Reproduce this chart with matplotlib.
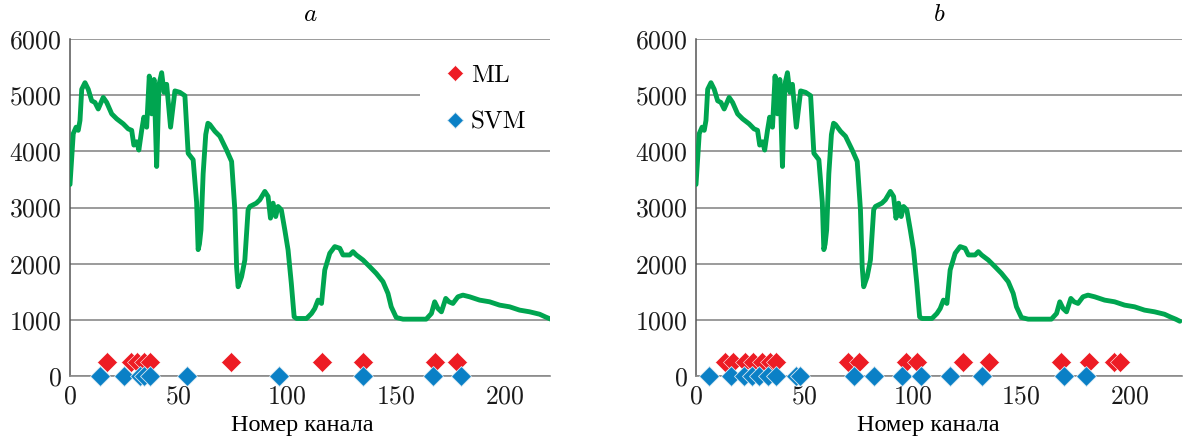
import matplotlib
matplotlib.use("Agg")
import matplotlib.pyplot as plt
from matplotlib.patches import Rectangle

plt.rcParams['font.family'] = ['cmr10', 'Liberation Serif', 'DejaVu Serif']
plt.rcParams['mathtext.fontset'] = 'cm'
plt.rcParams['axes.formatter.use_mathtext'] = True

# ---- data ----
channels = [0, 1.5, 2.8, 3.8, 4.6, 5.4, 6.9, 8.4, 10, 11.5, 13, 15.3, 16.9, 19.2,
            21.5, 24.5, 26.8, 28.4, 29.4, 30.7, 31.7, 33, 34, 35.3, 36.5, 37.6, 38.7,
            39.9, 41, 42.2, 43.3, 44.5, 46.3, 48.3, 50.6, 52.9, 54.4, 56.7, 58.3, 59.0,
            59.6, 60.3, 61.3, 62.5, 63.5, 64.4, 66.7, 69, 72, 74.4, 75.9, 76.7, 77.4,
            79, 80.5, 82, 82.8, 85.8, 87.4, 89.7, 91.2, 92.3, 93.5, 94.7, 95.8, 97.3,
            98.9, 100.4, 101.9, 103.2, 104.3, 108.9, 111.2, 112.7, 114.2, 115.8, 117.3,
            119.6, 121.9, 124.2, 125.7, 128.8, 130.3, 131.8, 134.9, 138, 141, 144.1,
            146.4, 147.9, 150.2, 153.3, 164, 166.4, 167.9, 169.4, 171, 173, 174.5,
            176.3, 178.6, 180.9, 184, 188.6, 193.2, 197.8, 202.4, 207, 211.6, 216.2,
            219.0, 221.5, 223.3]
intensity = [3410, 4316, 4430, 4374, 4550, 5105, 5222, 5105, 4900, 4870, 4754, 4960, 4870,
             4667, 4579, 4490, 4400, 4374, 4111, 4170, 4023, 4374, 4608, 4430, 5340, 4667,
             5280, 3730, 5193, 5400, 5050, 5193, 4430, 5076, 5050, 4990, 3965, 3850, 3088,
             2250, 2350, 2600, 3600, 4300, 4500, 4476, 4357, 4268, 4030, 3820, 2958, 1946,
             1589, 1768, 2065, 2958, 3018, 3077, 3137, 3286, 3196, 2810, 3077, 2839, 3018,
             2958, 2601, 2244, 1649, 1054, 1024, 1024, 1113, 1202, 1351, 1292, 1887, 2185,
             2304, 2274, 2155, 2155, 2214, 2155, 2065, 1946, 1827, 1679, 1470, 1232, 1042,
             1012, 1012, 1113, 1321, 1202, 1143, 1381, 1321, 1292, 1410, 1440, 1410, 1351,
             1321, 1262, 1232, 1173, 1143, 1100, 1050, 1010, 975]

ml_a = [17, 28, 31, 34, 37, 74, 116, 135, 168, 178]
svm_a = [14, 25, 32, 34, 37, 54, 96, 135, 167, 180]
ml_b = [13.5, 17, 22.5, 26.5, 30.5, 34, 37, 70, 75, 97, 102, 123, 135, 168.5, 181.5, 193, 195.5]
svm_b = [6, 16, 22, 26, 29, 33, 37, 46, 48, 73, 82, 95, 104, 117, 132, 170, 180]
ml_level = 250
svm_level = 0

panel_titles = ['$a$', '$b$']
xlabel = 'Номер канала'
yticks = [0, 1000, 2000, 3000, 4000, 5000, 6000]
xticks = [0, 50, 100, 150, 200]

GREEN = '#00A550'
RED = '#ED1C24'
BLUE = '#0A80C6'

fig = plt.figure(figsize=(11.83, 4.41), dpi=100)
axa = fig.add_axes([70/1183, 1-376/441, 480/1183, 337/441])
axb = fig.add_axes([696/1183, 1-376/441, 486/1183, 337/441])

for ax, title, ml, svm, xmax, lx in [(axa, panel_titles[0], ml_a, svm_a, 221, 0.483),
                                      (axb, panel_titles[1], ml_b, svm_b, 224.3, 0.477)]:
    ax.plot(channels, intensity, color=GREEN, lw=3.5, solid_joinstyle='round',
            solid_capstyle='round', zorder=3)
    ax.plot(ml, [ml_level]*len(ml), ls='none', marker='D', ms=10.5, color=RED,
            mec='white', mew=0.4, clip_on=False, zorder=4, label='ML')
    ax.plot(svm, [svm_level]*len(svm), ls='none', marker='D', ms=10.5, color=BLUE,
            mec='#d8e8f2', mew=0.6, clip_on=False, zorder=5, label='SVM')
    ax.set_xlim(0, xmax)
    ax.set_ylim(0, 6000)
    ax.set_yticks(yticks)
    ax.set_xticks(xticks)
    ax.yaxis.grid(True, color='#8a8a8a', lw=1.2)
    ax.set_axisbelow(True)
    for s in ['top', 'right']:
        ax.spines[s].set_visible(False)
    ax.spines['left'].set_color('#555555')
    ax.spines['bottom'].set_color('#8a8a8a')
    ax.spines['left'].set_linewidth(1.1)
    ax.spines['bottom'].set_linewidth(1.2)
    ax.tick_params(length=0, labelsize=18.5, pad=6, colors='#1a1a1a')
    ax.set_title(title, fontsize=18, pad=13)
    ax.set_xlabel(xlabel, fontsize=17.5, family=['Liberation Serif'])
    ax.xaxis.set_label_coords(lx, -0.117)

# white background behind the legend (hides part of the 5000 gridline)
axa.add_patch(Rectangle(((420-70)/480, (376-138)/337), 140/480, 85/337,
                        transform=axa.transAxes, facecolor='white', edgecolor='none',
                        zorder=2, clip_on=False))
leg = axa.legend(loc='upper left', bbox_to_anchor=((431-70)/480, (376-52)/337),
                 fontsize=18, frameon=False, markerscale=0.75, handlelength=0.9,
                 handletextpad=0.2, labelspacing=0.95, borderpad=0.0)
leg.set_zorder(10)

fig.savefig('out.png', dpi=100)
